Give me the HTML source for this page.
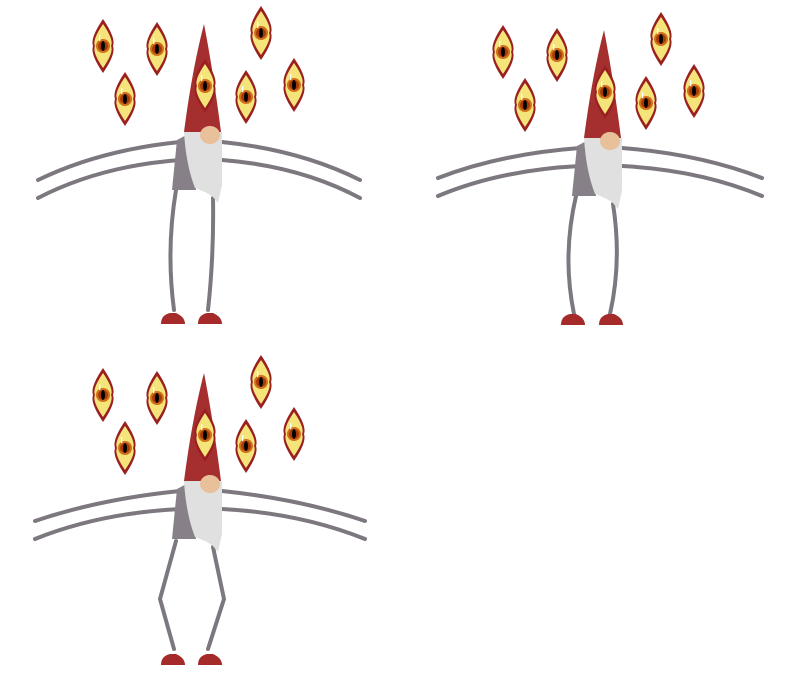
<!DOCTYPE html>
<html><head><meta charset="utf-8"><style>html,body{margin:0;padding:0;background:#fff}svg{display:block}</style></head>
<body>
<svg width="802" height="688" viewBox="0 0 802 688" xmlns="http://www.w3.org/2000/svg">
<defs>
<g id="eye">
  <path d="M0,-27 Q13,-8 10,0 Q13,8 0,27 Q-13,8 -10,0 Q-13,-8 0,-27 Z" fill="#9a2020"/>
  <path d="M0,-22 Q11,-6 8,0 Q11,6 0,22 Q-11,6 -8,0 Q-11,-6 0,-22 Z" fill="#f4e47a"/>
  <circle r="7" fill="#d0701a"/>
  <circle r="5" fill="#a83a08"/>
  <ellipse rx="2" ry="5" fill="#000"/>
  <rect x="-4" y="-11" width="1.3" height="6" fill="#fff"/>
</g>
<g id="top">
  <use href="#eye" x="103" y="46"/>
  <use href="#eye" x="157" y="49"/>
  <use href="#eye" x="125" y="99"/>
  <use href="#eye" x="261" y="33"/>
  <use href="#eye" x="246" y="97"/>
  <use href="#eye" x="294" y="85"/>
  <path d="M204,24 Q213,70 221,132 L184,132 Q192,70 204,24 Z" fill="#a52f2f"/>
  <use href="#eye" x="205" y="86"/>
  <path d="M177,140 L192,132 L196,190 L172,190 Z" fill="#878088"/>
  <path d="M184,132 L222,132 L222,185 L218,203 L212,196 L205,192 L195,188 Q186,165 184,132 Z" fill="#e0e0e0"/>
  <ellipse cx="210" cy="135" rx="10" ry="9" fill="#e8c09a"/>
</g>
<path id="shoe" d="M-12,5 Q-12,-4 -3,-6 L3,-6 Q12,-2 12,5 Z" fill="#a52a2a"/>
</defs>

<g>
  <g fill="none" stroke="#7d7880" stroke-width="4" stroke-linecap="round">
    <path d="M180,142 Q100,150 38,180"/>
    <path d="M180,160 Q100,166 38,198"/>
    <path d="M222,142 Q300,150 360,180"/>
    <path d="M222,160 Q300,166 360,198"/>
    <path d="M176,190 Q166,250 174,310"/>
    <path d="M213,198 Q214,255 208,310"/>
  </g>
  <use href="#top"/>
  <use href="#shoe" x="173" y="319"/>
  <use href="#shoe" x="210" y="319"/>
</g>

<g transform="translate(400,6)">
  <g fill="none" stroke="#7d7880" stroke-width="4" stroke-linecap="round">
    <path d="M180,142 Q100,148 38,172"/>
    <path d="M180,160 Q100,164 38,190"/>
    <path d="M222,142 Q300,148 362,172"/>
    <path d="M222,160 Q300,164 362,190"/>
    <path d="M176,190 Q162,250 174,308"/>
    <path d="M213,198 Q222,255 210,308"/>
  </g>
  <use href="#top"/>
  <use href="#shoe" x="173" y="314"/>
  <use href="#shoe" x="211" y="314"/>
</g>

<g transform="translate(0,349)">
  <g fill="none" stroke="#7d7880" stroke-width="4" stroke-linecap="round">
    <path d="M180,142 Q100,150 35,172"/>
    <path d="M180,160 Q100,164 35,190"/>
    <path d="M222,142 Q300,150 365,172"/>
    <path d="M222,160 Q300,164 365,190"/>
    <path d="M176,192 L160,250 L174,300"/>
    <path d="M213,198 L224,250 L208,300"/>
  </g>
  <use href="#top"/>
  <use href="#shoe" x="173" y="311"/>
  <use href="#shoe" x="210" y="311"/>
</g>
</svg>
</body></html>
